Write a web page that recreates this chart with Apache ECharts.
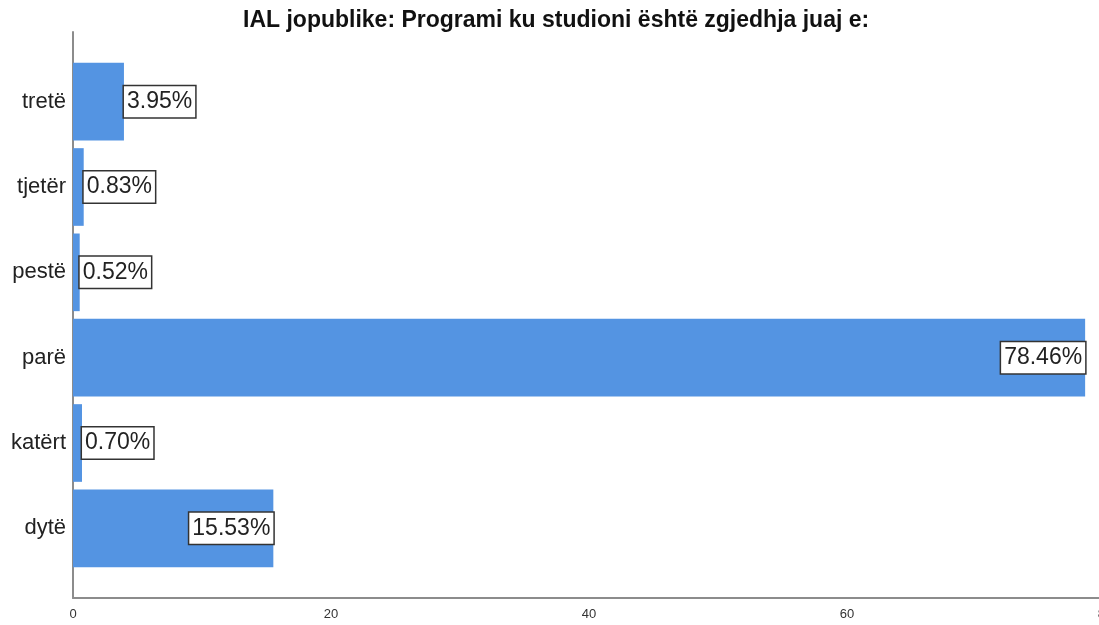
<!DOCTYPE html>
<html>
<head>
<meta charset="utf-8">
<script src="https://cdn.jsdelivr.net/npm/echarts@6/dist/echarts.min.js"></script>
<style>
  html, body { margin: 0; padding: 0; background: #fff; }
  #chart { width: 1099px; height: 625px; }
</style>
</head>
<body>
<div id="chart"></div>
<script>
const title = 'IAL jopublike: Programi ku studioni është zgjedhja juaj e:'
const categories = ['tretë', 'tjetër', 'pestë', 'parë', 'katërt', 'dytë']
const percents = [3.95, 0.83, 0.52, 78.46, 0.70, 15.53]
const xTicks = [0, 20, 40, 60, 80]

const font = '"Liberation Sans", Arial, sans-serif'
const axisColor = '#8c8c8c'

const chart = echarts.init(document.getElementById('chart'))

const barData = percents.map(v => ({
  value: v,
  label: { position: v > 10 ? 'insideRight' : 'right' },
}))

chart.setOption({
  backgroundColor: '#fff',
  animation: false,
  title: {
    text: title,
    left: 238,
    top: 4,
    textStyle: { fontFamily: font, fontSize: 23, fontWeight: 'bold', color: '#111' },
  },
  grid: [
    // bars
    { left: 73, right: -6, top: 59, bottom: 54, outerBoundsMode: 'none' },
    // axis frame
    { left: 73, right: -6, top: 32, bottom: 27, outerBoundsMode: 'none' },
  ],
  xAxis: [
    { gridIndex: 0, type: 'value', min: xTicks[0], max: xTicks[xTicks.length - 1], show: false },
    {
      gridIndex: 1,
      type: 'value',
      min: xTicks[0],
      max: xTicks[xTicks.length - 1],
      interval: 20,
      axisLine: { show: true, lineStyle: { color: axisColor, width: 2 } },
      axisTick: { show: false },
      splitLine: { show: false },
      axisLabel: { color: '#333', fontFamily: font, fontSize: 13, margin: 10 },
    },
  ],
  yAxis: [
    {
      gridIndex: 0,
      type: 'category',
      data: categories,
      inverse: true,
      axisLine: { show: false },
      axisTick: { show: false },
      axisLabel: { color: '#222', fontFamily: font, fontSize: 22, margin: 7 },
    },
    {
      gridIndex: 1,
      type: 'value',
      min: 0,
      max: 1,
      axisLine: { show: true, lineStyle: { color: axisColor, width: 2 } },
      axisTick: { show: false },
      axisLabel: { show: false },
      splitLine: { show: false },
    },
  ],
  series: [
    {
      type: 'bar',
      xAxisIndex: 0,
      yAxisIndex: 0,
      data: barData,
      barCategoryGap: '9%',
      itemStyle: { color: '#5494e2' },
      label: {
        show: true,
        distance: 0,
        fontFamily: font,
        fontSize: 23,
        color: '#222',
        backgroundColor: '#fff',
        borderColor: '#333',
        borderWidth: 1.5,
        padding: [5, 3, 3, 3],
        formatter: p => p.value.toFixed(2) + '%',
      },
    },
  ],
})
</script>
</body>
</html>
